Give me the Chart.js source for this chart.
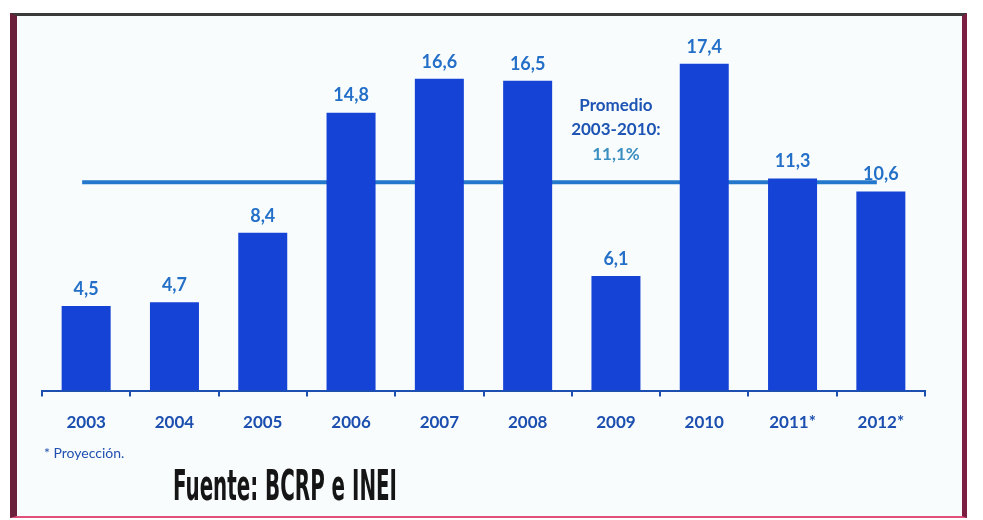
<!DOCTYPE html>
<html>
<head>
    <meta charset="UTF-8">
    <title>Crecimiento</title>
    <script src="https://cdn.jsdelivr.net/npm/chart.js"></script>
    <style>
        html, body {
            margin: 0;
            padding: 0;
            background: #ffffff;
            width: 983px;
            height: 520px;
            overflow: hidden;
        }
        .frame {
            position: absolute;
            left: 10px;
            top: 13px;
            width: 957px;
            height: 505px;
            box-sizing: border-box;
            background: #f9fcfc;
            border-left: 7px solid #6b1f3a;
            border-right: 5px solid #7a1f42;
            border-top: 3px solid #3a3a3a;
            border-bottom: 2px solid #e0507a;
        }
        #growthChart {
            position: absolute;
            left: 0;
            top: 0;
        }
    </style>
</head>
<body>
    <div class="frame"></div>
    <canvas id="growthChart" width="983" height="520"></canvas>

    <script>
        // datos
        const years = ['2003', '2004', '2005', '2006', '2007', '2008', '2009', '2010', '2011*', '2012*'];
        const growth = [4.5, 4.7, 8.4, 14.8, 16.6, 16.5, 6.1, 17.4, 11.3, 10.6];
        const averageValue = 11.1;
        const averageLines = ['Promedio', '2003-2010:', '11,1%'];
        const averageAnchor = '2009';
        const footnote = '* Proyección.';
        const source = 'Fuente: BCRP e INEI';

        const barColor = '#1543d6';
        const labelColor = '#2470c8';
        const axisColor = '#1c4fb0';

        function fmt(v) {
            return v.toFixed(1).replace('.', ',');
        }

        // línea del promedio, detrás de las barras
        const averagePlugin = {
            id: 'averageLine',
            beforeDatasetsDraw(chart) {
                const ctx = chart.ctx;
                const x = chart.scales.x;
                const y = chart.scales.y;
                const yy = y.getPixelForValue(averageValue);
                ctx.save();
                ctx.strokeStyle = '#2478cc';
                ctx.lineWidth = 4;
                ctx.beginPath();
                ctx.moveTo(x.getPixelForValue(0) - 4, yy);
                ctx.lineTo(x.getPixelForValue(years.length - 1) - 4, yy);
                ctx.stroke();
                ctx.restore();
            }
        };

        // etiquetas de valores y textos
        const labelsPlugin = {
            id: 'valueLabels',
            afterDatasetsDraw(chart) {
                const ctx = chart.ctx;
                const meta = chart.getDatasetMeta(0);
                ctx.save();
                ctx.font = 'bold 18px Lato';
                ctx.fillStyle = labelColor;
                ctx.textAlign = 'center';
                ctx.textBaseline = 'middle';
                meta.data.forEach(function(bar, i) {
                    ctx.fillText(fmt(growth[i]), bar.x, bar.y - 17);
                });

                // anotación del promedio
                const cx = chart.scales.x.getPixelForValue(years.indexOf(averageAnchor));
                ctx.font = 'bold 17px Lato';
                ctx.fillStyle = '#1e55b5';
                ctx.fillText(averageLines[0], cx, 106);
                ctx.fillText(averageLines[1], cx, 130);
                ctx.fillStyle = '#3b8fc0';
                ctx.fillText(averageLines[2], cx, 155);

                // nota
                ctx.textAlign = 'left';
                ctx.font = '14px Lato';
                ctx.fillStyle = '#2050b0';
                ctx.fillText(footnote, 44, 453);

                // fuente, letra condensada
                ctx.font = 'bold 42px "DejaVu Sans Condensed"';
                const w = ctx.measureText(source).width;
                ctx.translate(173, 489);
                ctx.scale(224 / w, 1);
                ctx.fillStyle = '#151515';
                ctx.fillText(source, 0, 0);
                ctx.restore();
            }
        };

        const ctx = document.getElementById('growthChart').getContext('2d');
        new Chart(ctx, {
            type: 'bar',
            data: {
                labels: years,
                datasets: [{
                    data: growth,
                    backgroundColor: barColor,
                    categoryPercentage: 1,
                    barPercentage: 0.555
                }]
            },
            options: {
                responsive: false,
                animation: false,
                layout: {
                    padding: { left: 42, right: 58, top: 15, bottom: 71 }
                },
                plugins: {
                    legend: { display: false },
                    tooltip: { enabled: false }
                },
                scales: {
                    y: {
                        display: false,
                        min: 0,
                        max: 20
                    },
                    x: {
                        grid: {
                            offset: true,
                            drawOnChartArea: false,
                            drawTicks: true,
                            tickLength: 6,
                            color: axisColor,
                            lineWidth: 2
                        },
                        border: { color: axisColor, width: 2 },
                        ticks: {
                            color: axisColor,
                            padding: 16,
                            font: { family: 'Lato', size: 17, weight: 'bold' }
                        }
                    }
                }
            },
            plugins: [averagePlugin, labelsPlugin]
        });
    </script>
</body>
</html>
